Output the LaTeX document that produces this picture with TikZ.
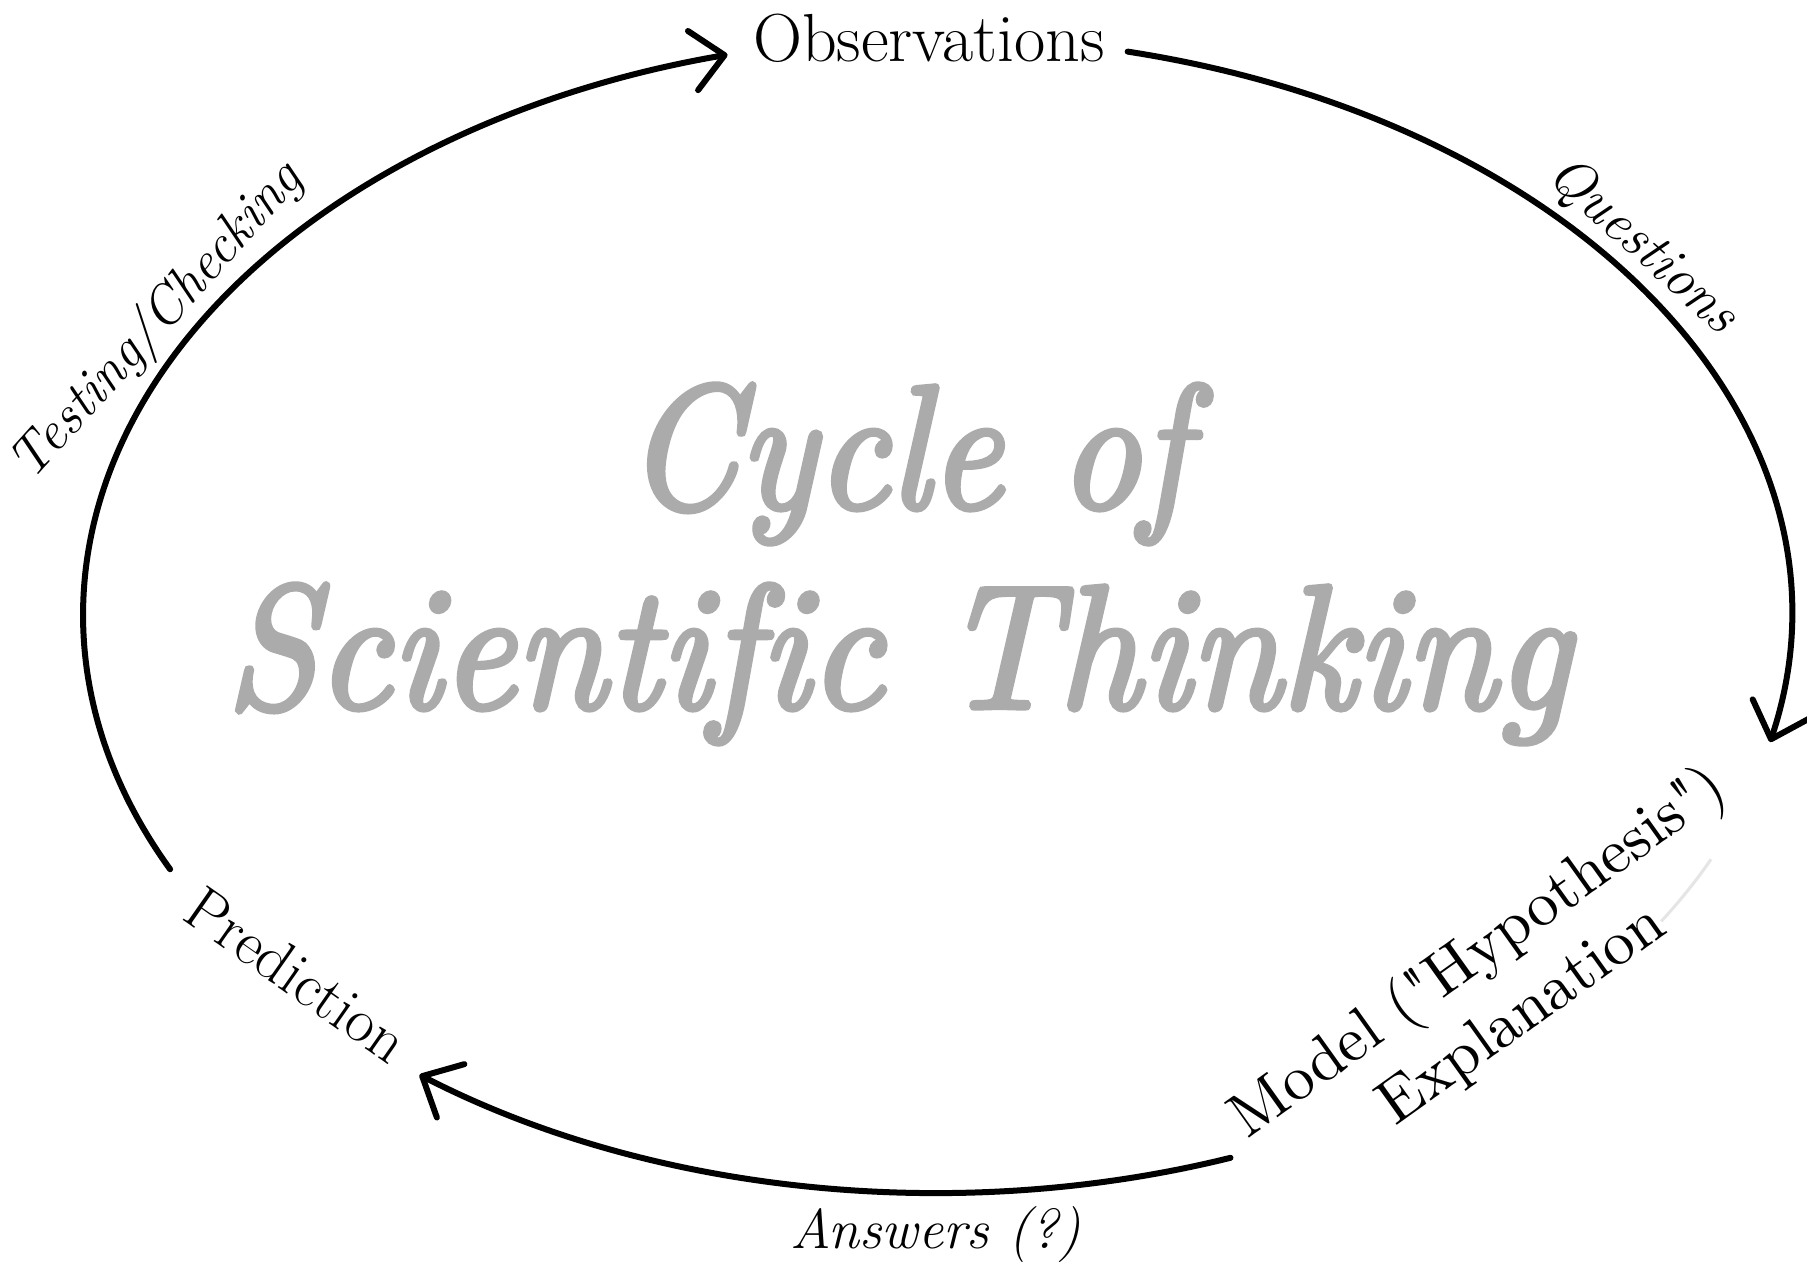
\documentclass[tikz,border=0pt]{standalone}
\usepackage{fontspec}
\usepackage{graphicx}
\usetikzlibrary{arrows.meta,calc}
\newfontfamily\titlefont{lmroman10-italic.otf}[FakeBold=3,Ligatures=NoCommon]
\newfontfamily\plainquotefont{lmroman10-regular.otf}[Ligatures=TeXOff]
\definecolor{titlegray}{HTML}{ABABAB}
\tikzset{
  cyc/.style={line width=3pt, line cap=round,
    -{Straight Barb[length=16pt,width=30pt,round]}},
  lbl/.style={inner sep=0pt, text=black},
  titletxt/.style={inner sep=0pt, anchor=base, text=titlegray,
    font=\titlefont\fontsize{88}{100}\selectfont},
}
\begin{document}
\begin{tikzpicture}[x=0.5pt,y=-0.5pt]
\useasboundingbox[fill=white] (0,0) rectangle (1807,1273);
\coordinate (ctr) at (937,615);
% connector end points on the ellipse
\coordinate (obsOut)  at ($(ctr)+(282.9:854 and 578)$);
\coordinate (predOut) at ($(ctr)+(153.9:854 and 578)$);
\coordinate (modOut)  at ($(ctr)+(69.9:854 and 578)$);
\coordinate (faint)   at ($(ctr)+(25:854 and 578)$);

% labels
\node[lbl, anchor=base, font=\fontsize{34}{40}\selectfont] (obs) at (929,62) {Observations};
\node[lbl, rotate=-35, anchor=base, font=\fontsize{31}{37}\selectfont] (pred) at (285,992) {Prediction};
\node[lbl, rotate=35.5, align=center, font=\plainquotefont\fontsize{31.5}{38}\selectfont] (model) at (1500,984) {Model ("Hypothesis")\\Explanation};
\node[lbl, rotate=-42, anchor=base, font=\itshape\fontsize{28}{34}\selectfont] (ques) at (1633,257) {Questions};
\node[lbl, rotate=48, anchor=base, font=\itshape\fontsize{27.5}{32}\selectfont] (test) at (168,331) {Testing/Checking};
\node[lbl, anchor=base, font=\itshape\fontsize{28}{34}\selectfont] (ans) at (936,1248) {Answers (?)};

% title
\node[titletxt] (title1) at (907,508) {\scalebox{0.9}[1]{Cycle of}};
\node[titletxt] (title2) at (898,708) {\scalebox{0.92}[1]{Scientific Thinking}};

% cycle arcs
\draw[cyc] (obsOut) arc[start angle=-77.1, end angle=12.7, x radius=854, y radius=578];
\draw[cyc] (modOut) arc[start angle=69.9, end angle=127.3, x radius=854, y radius=578];
\draw[cyc] (predOut) arc[start angle=153.9, end angle=255.8, x radius=854, y radius=578];
\draw[gray!20, line width=1.5pt] (faint) arc[start angle=25, end angle=32, x radius=854, y radius=578];
\end{tikzpicture}
\end{document}
